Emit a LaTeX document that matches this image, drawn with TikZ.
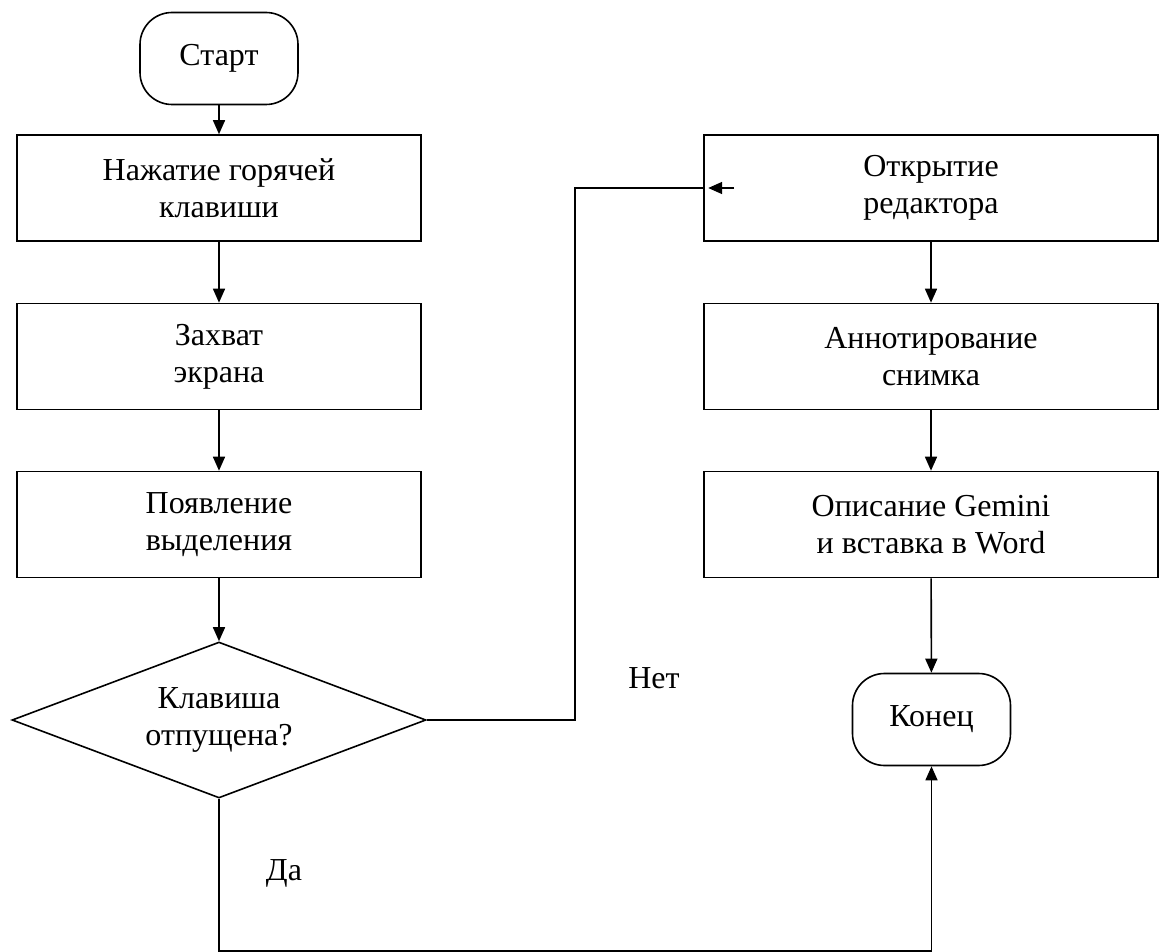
\documentclass[tikz,border=0pt]{standalone}
\usepackage{fontspec}
\setmainfont{Liberation Serif}
\usetikzlibrary{arrows.meta,shapes.geometric}
\begin{document}
\begin{tikzpicture}[x=1pt,y=-1pt,
  every node/.style={font=\fontsize{32}{37}\selectfont},
  proc/.style={draw,line width=1.6pt,minimum width=404pt,minimum height=106pt,align=center,inner sep=0pt},
  rproc/.style={proc,minimum width=454pt},
  term/.style={draw,line width=1.6pt,rounded corners=32pt,minimum width=158pt,minimum height=92pt,inner sep=0pt},
  dec/.style={draw,line width=1.6pt,diamond,aspect=2.65,minimum width=414pt,minimum height=156pt,align=center,inner sep=0pt},
  line/.style={line width=1.6pt},
  conn/.style={line,-{Triangle[length=14pt,width=12pt]}},
  lbl/.style={inner sep=0pt}
]
\useasboundingbox (0,0) rectangle (1160,952);
\node[term] (start) at (219,58.5) {Старт};
\node[proc] (b1) at (219,188) {Нажатие горячей\\клавиши};
\node[proc] (b2) at (219,356.5) {Захват\\экрана};
\node[proc] (b3) at (219,524.5) {Появление\\выделения};
\node[dec] (dec) at (219,720) {Клавиша\\отпущена?};
\node[rproc] (r1) at (931,188) {Открытие\\редактора};
\node[rproc] (r2) at (931,356.5) {Аннотирование\\снимка};
\node[rproc] (r3) at (931,524.5) {Описание Gemini\\и вставка в Word};
\node[term] (end) at (931.5,719.5) {Конец};
\node[lbl] (no) at (654,678) {Нет};
\node[lbl] (yes) at (284,873) {Да};
\coordinate (xr) at (575,0);
\coordinate (ybot) at (0,951);
\draw[conn] (start) -- (b1);
\draw[conn] (b1) -- (b2);
\draw[conn] (b2) -- (b3);
\draw[conn] (b3) -- (dec);
\draw[conn] (r1) -- (r2);
\draw[conn] (r2) -- (r3);
\draw[conn] (r3) -- (end);
\draw[line] (dec.east) -- (xr |- dec.east) -- (xr |- r1.west) -- (r1.west);
\draw[conn] ([xshift=31pt]r1.west) -- ([xshift=5pt]r1.west);
\draw[conn] (dec.south) -- (dec.south |- ybot) -- (end.south |- ybot) -- (end.south);
\end{tikzpicture}
\end{document}
